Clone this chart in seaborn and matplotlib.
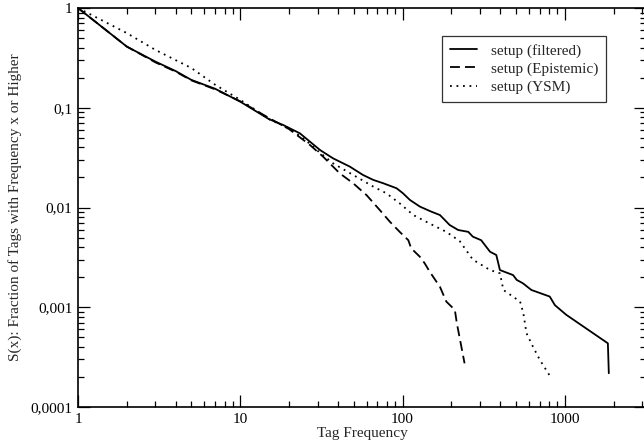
import matplotlib
matplotlib.use("Agg")
import matplotlib.pyplot as plt
import matplotlib.ticker as mticker
import seaborn as sns
import pandas as pd
import numpy as np

# ---- data ----
filtered_x = [1, 2, 3, 4, 5, 7, 10, 15, 18.4, 23.3, 31, 37.3, 47.3, 57, 66, 76, 91.8, 100.5, 111, 128,
              150, 170, 195, 220, 254, 271, 305, 346, 378, 398, 480, 505, 551, 622, 807, 868, 1020, 1841, 1866]
filtered_y = [1, 0.41, 0.29, 0.233, 0.19, 0.155, 0.115, 0.077, 0.0671, 0.0554, 0.0377, 0.0311, 0.0257, 0.0212,
              0.0189, 0.0175, 0.0156, 0.0139, 0.0119, 0.0102, 0.0091, 0.0084, 0.00668, 0.00595, 0.0057,
              0.0051, 0.0047, 0.0036, 0.00334, 0.00236, 0.0021, 0.00188, 0.00174, 0.00149, 0.00128,
              0.00105, 0.00084, 0.000435, 0.000218]

epist_x = [1, 2, 3, 4, 5, 7, 10, 15, 20, 26.9, 32.4, 41, 49.6, 60, 72.5, 83.5, 96, 108.5, 113, 128,
           137, 147, 170, 186, 210, 216, 225, 241]
epist_y = [1, 0.41, 0.285, 0.23, 0.188, 0.153, 0.116, 0.079, 0.061, 0.0423, 0.0323, 0.022, 0.0175, 0.0133,
           0.0094, 0.0072, 0.0057, 0.0047, 0.0039, 0.0032, 0.00275, 0.00227, 0.0016, 0.00114, 0.00094,
           0.00069, 0.00049, 0.000274]

ysm_x = [1, 2, 3, 4, 5, 7, 10, 15, 20, 25, 30, 37.3, 49.6, 66, 79.4, 96, 116.5, 147, 186, 225, 271,
         346, 398, 418, 530, 555, 580, 637, 702, 826]
ysm_y = [1, 0.56, 0.38, 0.30, 0.25, 0.17, 0.12, 0.077, 0.062, 0.048, 0.037, 0.0277, 0.0212, 0.0162,
         0.0139, 0.011, 0.0084, 0.0069, 0.0057, 0.0046, 0.003, 0.00236, 0.00219, 0.00149, 0.00114,
         0.00087, 0.00055, 0.0004, 0.000296, 0.000194]

series_names = ["setup (filtered)", "setup (Epistemic)", "setup (YSM)"]

x_ticks = [1, 10, 100, 1000]
x_tick_labels = ["1", "10", "100", "1000"]
y_ticks = [0.0001, 0.001, 0.01, 0.1, 1]
y_tick_labels = ["0,0001", "0,001", "0,01", "0,1", "1"]

df = pd.concat([
    pd.DataFrame({"x": filtered_x, "y": filtered_y, "series": series_names[0]}),
    pd.DataFrame({"x": epist_x, "y": epist_y, "series": series_names[1]}),
    pd.DataFrame({"x": ysm_x, "y": ysm_y, "series": series_names[2]}),
], ignore_index=True)

sns.set_style("ticks")
plt.rcParams["font.family"] = ["Liberation Serif", "DejaVu Serif"]

fig = plt.figure(figsize=(6.44, 4.45), dpi=100)
ax = fig.add_axes([78 / 644, 38 / 445, 568 / 644, 399 / 445])

styles = ["-", (0, (5.5, 2.8)), (0, (1, 2.6))]
for name, ls in zip(series_names, styles):
    sub = df[df["series"] == name]
    sns.lineplot(data=sub, x="x", y="y", ax=ax, color="black", linestyle=ls,
                 linewidth=1.3, estimator=None, sort=False, label=name)

ax.set_xscale("log")
ax.set_yscale("log")
ax.set_xlim(1, 10 ** 3.5)
ax.set_ylim(1e-4, 1)

ax.xaxis.set_major_locator(mticker.FixedLocator(x_ticks))
ax.xaxis.set_major_formatter(mticker.FixedFormatter(x_tick_labels))
ax.yaxis.set_major_locator(mticker.FixedLocator(y_ticks))
ax.yaxis.set_major_formatter(mticker.FixedFormatter(y_tick_labels))
ax.xaxis.set_minor_locator(mticker.LogLocator(base=10, subs=np.arange(2, 10), numticks=20))
ax.yaxis.set_minor_locator(mticker.LogLocator(base=10, subs=np.arange(2, 10), numticks=20))
ax.xaxis.set_minor_formatter(mticker.NullFormatter())
ax.yaxis.set_minor_formatter(mticker.NullFormatter())

ax.tick_params(which="both", direction="in", top=True, right=True, colors="black",
               labelsize=11, width=0.9)
ax.tick_params(which="major", length=8.5, pad=4)
ax.tick_params(which="minor", length=4.5)
for s in ax.spines.values():
    s.set_color("black")
    s.set_linewidth(1.2)

ax.set_xlabel("Tag Frequency", fontsize=11, labelpad=1)
ax.set_ylabel("S(x): Fraction of Tags with Frequency x or Higher", fontsize=11, labelpad=6)

leg = ax.legend(loc="upper right", bbox_to_anchor=(0.93, 0.93), fontsize=11,
                frameon=True, fancybox=False, shadow=False, handlelength=1.8,
                borderpad=0.5, labelspacing=0.3, handletextpad=0.9, borderaxespad=0)
leg.get_frame().set_edgecolor("black")
leg.get_frame().set_linewidth(0.9)

fig.savefig("out.png", dpi=100)
